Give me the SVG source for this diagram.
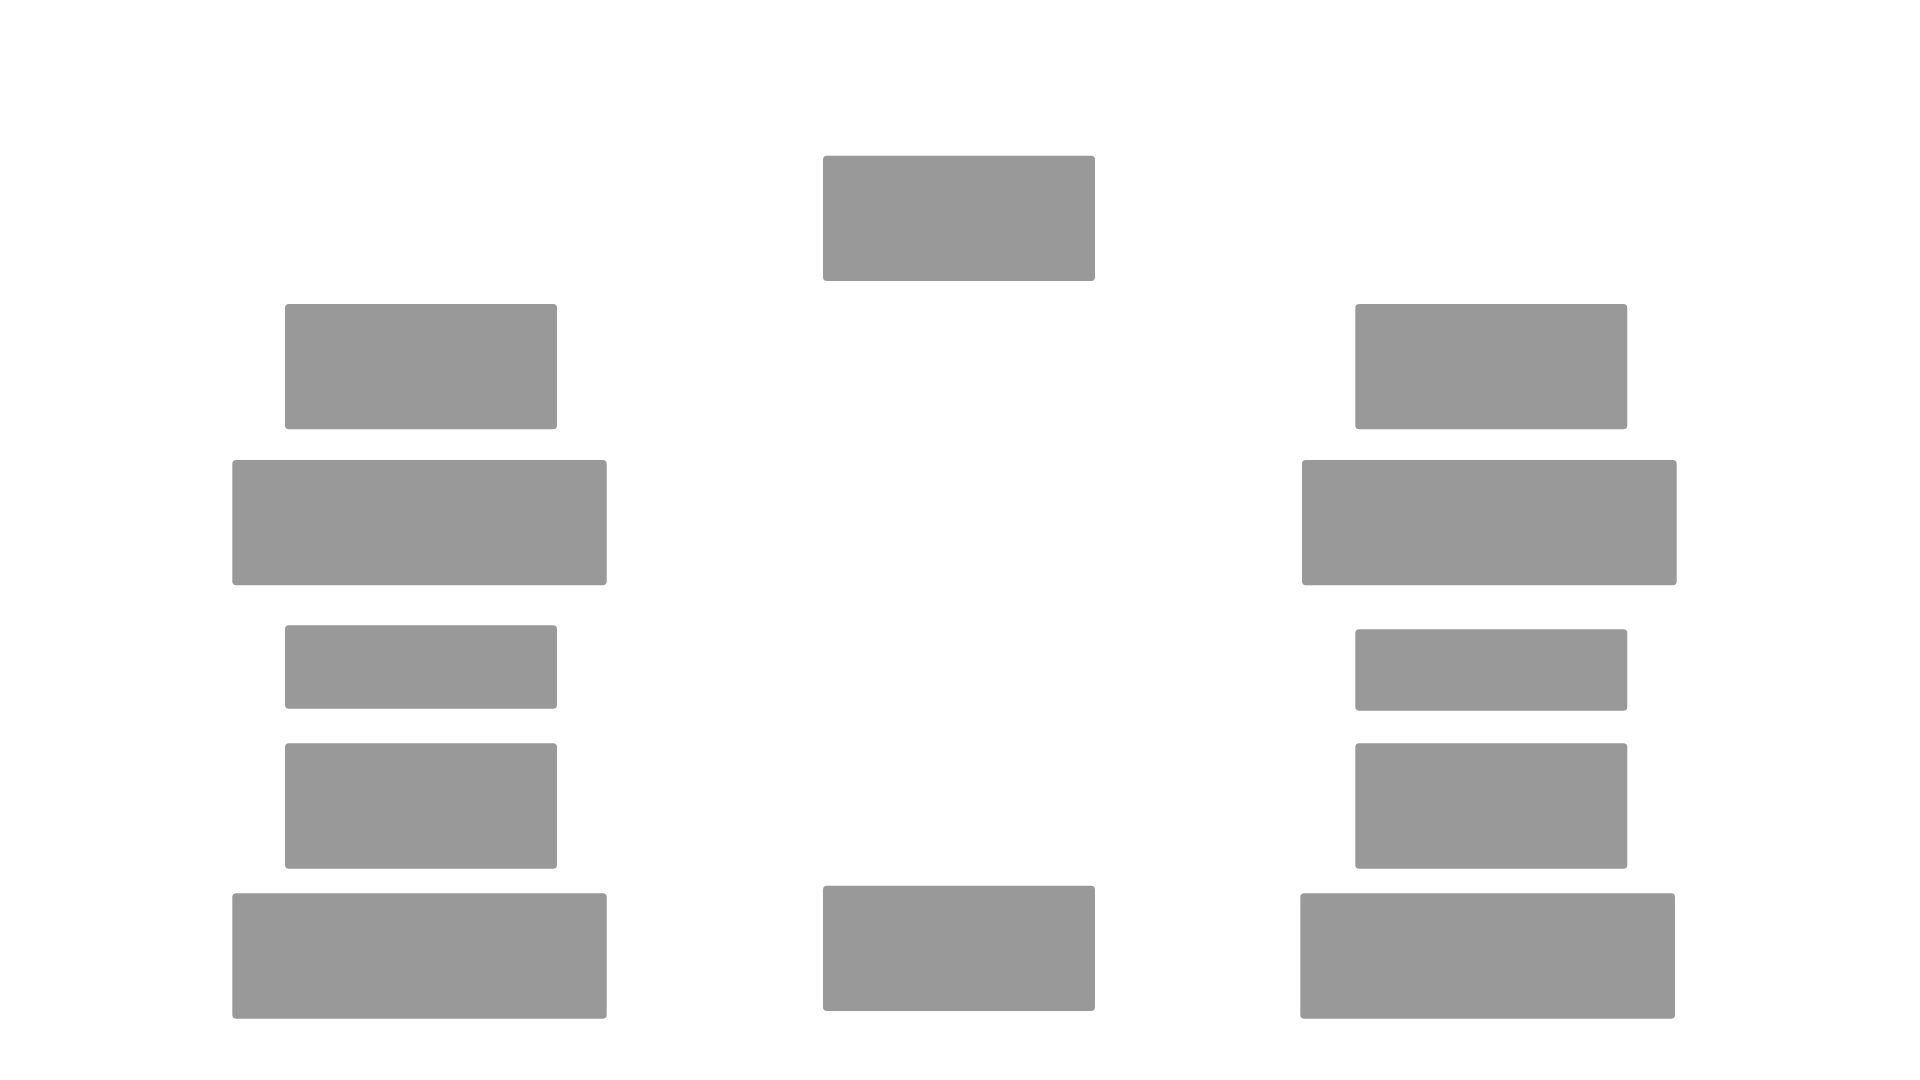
<svg xmlns="http://www.w3.org/2000/svg" width="1920" height="1080" viewBox="0 0 1920 1080">
<style>
.node rect { fill: #999999; rx: 4px; ry: 4px; }
</style>
<rect width="1920" height="1080" fill="#ffffff"/>
<g id="connectors"></g>
<g id="n-top" class="node"><rect x="823" y="155.7" width="272" height="125.3"/></g>
<g id="n-l1" class="node"><rect x="285" y="304" width="272" height="125.3"/></g>
<g id="n-l2" class="node"><rect x="232.3" y="460" width="374.4" height="125.3"/></g>
<g id="n-l3" class="node"><rect x="285" y="625.3" width="272" height="83.4"/></g>
<g id="n-l4" class="node"><rect x="285" y="743.3" width="272" height="125.4"/></g>
<g id="n-l5" class="node"><rect x="232.3" y="893.3" width="374.4" height="125.4"/></g>
<g id="n-bottom" class="node"><rect x="823" y="885.7" width="272" height="125.3"/></g>
<g id="n-r1" class="node"><rect x="1355.3" y="304" width="272" height="125.3"/></g>
<g id="n-r2" class="node"><rect x="1302" y="460" width="374.7" height="125.3"/></g>
<g id="n-r3" class="node"><rect x="1355.3" y="629.3" width="272" height="81.4"/></g>
<g id="n-r4" class="node"><rect x="1355.3" y="743.3" width="272" height="125.4"/></g>
<g id="n-r5" class="node"><rect x="1300.3" y="893.3" width="374.7" height="125.4"/></g>
</svg>
